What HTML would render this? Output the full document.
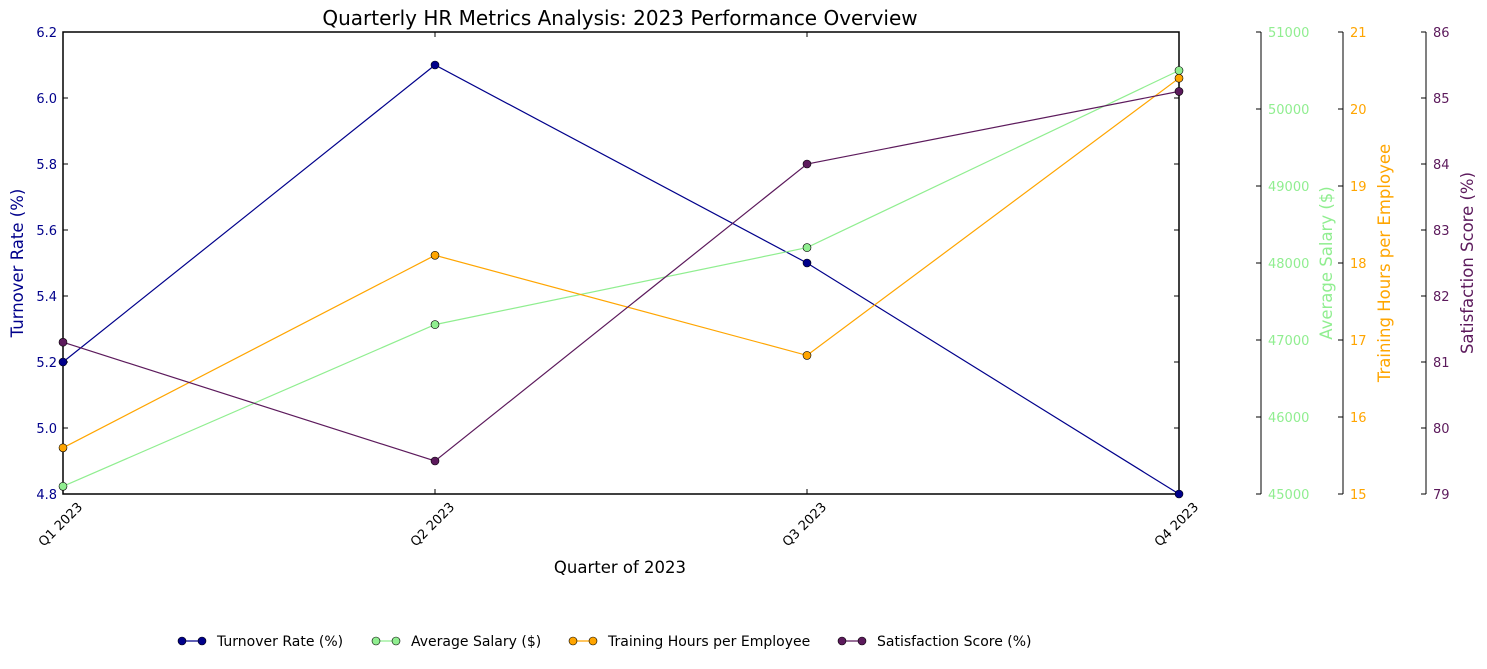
<!DOCTYPE html>
<html><head><meta charset="utf-8"><style>
body{margin:0;background:#fff;}
svg{font-family:"DejaVu Sans","Liberation Sans",sans-serif;}
</style></head><body>
<svg id="chart" width="1487" height="664" xmlns="http://www.w3.org/2000/svg"></svg>
<script>
const categories=["Q1 2023","Q2 2023","Q3 2023","Q4 2023"];
const turnover=[5.2,6.1,5.5,4.8];
const salary=[45100,47200,48200,50500];
const training=[15.6,18.1,16.8,20.4];
const satisfaction=[81.3,79.5,84.0,85.1];
const turnTicks=[4.8,5.0,5.2,5.4,5.6,5.8,6.0,6.2];
const salTicks=[45000,46000,47000,48000,49000,50000,51000];
const trainTicks=[15,16,17,18,19,20,21];
const satTicks=[79,80,81,82,83,84,85,86];

const NS="http://www.w3.org/2000/svg";
const svg=document.getElementById('chart');
const L=63,R=1179,T=32,B=494;
function el(tag,attrs,text){const e=document.createElementNS(NS,tag);for(const k in attrs)e.setAttribute(k,attrs[k]);if(text!==undefined)e.textContent=text;svg.appendChild(e);return e;}
function xs(i){return L+(R-L)*i/(categories.length-1);}
function ys(min,max){return v=>B-(v-min)/(max-min)*(B-T);}
const yT=ys(4.8,6.2),yS=ys(45000,51000),yTr=ys(15,21),ySa=ys(79,86);

let f=el('rect',{x:L,y:T,width:R-L,height:B-T,fill:'none',stroke:'#000','stroke-width':1.5});


let t=el('text',{x:620,y:25,'text-anchor':'middle','font-size':20},'Quarterly HR Metrics Analysis: 2023 Performance Overview');


turnTicks.forEach(v=>{const y=yT(v);
 el('line',{x1:L,x2:L+5,y1:y,y2:y,stroke:'#000'});el('line',{x1:R,x2:R-5,y1:y,y2:y,stroke:'#000'});
 let tx=el('text',{x:L-6,y:y+5,'text-anchor':'end','font-size':13,fill:'#00008b'},v.toFixed(1));
 });
let yl=el('text',{x:0,y:0,transform:`translate(23,${(T+B)/2}) rotate(-90)`,'text-anchor':'middle','font-size':16.5,fill:'#00008b'},'Turnover Rate (%)');


function rightAxis(x,ticks,scale,color,title,titleX,name,fmt){
 let ln=el('line',{x1:x,x2:x,y1:T,y2:B,stroke:'#000','stroke-width':1});
 
 ticks.forEach(v=>{const y=scale(v);el('line',{x1:x,x2:x-5,y1:y,y2:y,stroke:'#000'});
  let tx=el('text',{x:x+7,y:y+5,'font-size':13,fill:color},fmt(v));
  });
 let tl=el('text',{x:0,y:0,transform:`translate(${titleX},${(T+B)/2}) rotate(-90)`,'text-anchor':'middle','font-size':16.5,fill:color},title);
 
}
rightAxis(1261,salTicks,yS,'#90ee90','Average Salary ($)',1332,'salary',v=>String(v));
rightAxis(1343,trainTicks,yTr,'#ffa500','Training Hours per Employee',1390,'training',v=>String(v));
rightAxis(1426,satTicks,ySa,'#5c1a5c','Satisfaction Score (%)',1473,'satisfaction',v=>String(v));

categories.forEach((c,i)=>{const x=xs(i);
 el('line',{x1:x,x2:x,y1:B,y2:B-5,stroke:'#000'});el('line',{x1:x,x2:x,y1:T,y2:T+5,stroke:'#000'});
 let tx=el('text',{x:0,y:0,transform:`translate(${x-2},${B+31}) rotate(-45)`,'text-anchor':'middle','dominant-baseline':'central','font-size':13},c);
 });
let xl=el('text',{x:620,y:573,'text-anchor':'middle','font-size':16.5},'Quarter of 2023');


function series(data,scale,color,name){
 const pts=data.map((v,i)=>xs(i)+','+scale(v)).join(' ');
 let pl=el('polyline',{points:pts,fill:'none',stroke:color,'stroke-width':1.2});
 
 data.forEach((v,i)=>{let c=el('circle',{cx:xs(i),cy:scale(v),r:4,fill:color,stroke:'#000','stroke-width':0.6});
  });
}
series(turnover,yT,'#00008b','turnover');
series(salary,yS,'#90ee90','salary');
series(training,yTr,'#ffa500','training');
series(satisfaction,ySa,'#5c1a5c','satisfaction');

const leg=[['Turnover Rate (%)','#00008b',178],['Average Salary ($)','#90ee90',372],['Training Hours per Employee','#ffa500',569],['Satisfaction Score (%)','#5c1a5c',838]];
leg.forEach(([lab,col,x])=>{
 el('line',{x1:x,x2:x+28,y1:641,y2:641,stroke:col,'stroke-width':1.2});
 el('circle',{cx:x+4,cy:641,r:4,fill:col,stroke:'#000','stroke-width':0.6});
 el('circle',{cx:x+24,cy:641,r:4,fill:col,stroke:'#000','stroke-width':0.6});
 let tx=el('text',{x:x+39,y:646,'font-size':14},lab);
 
});
</script>
</body></html>
